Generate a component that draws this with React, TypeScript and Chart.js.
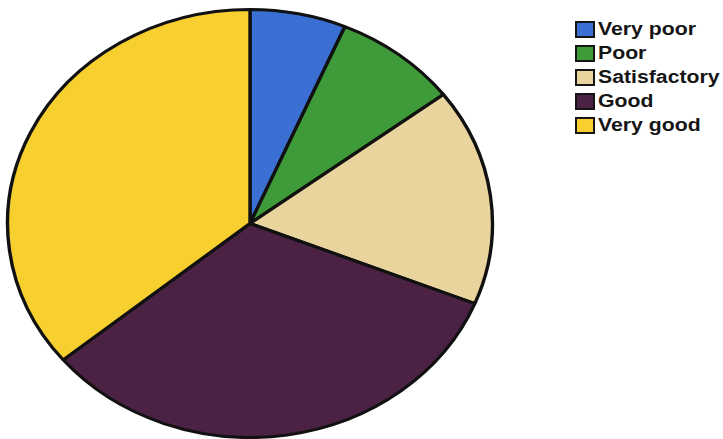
import React, { useEffect, useRef } from "react";
import { Chart, registerables } from "chart.js";

Chart.register(...registerables);

const categories = ["Very poor", "Poor", "Satisfactory", "Good", "Very good"];
const shares = [6.4, 8.3, 16.4, 32.9, 36.0];
const sliceColors = ["#3b6fd3", "#3f9a3a", "#e8d49c", "#4b2243", "#f7d030"];

const STRETCH_X = 1.133;

const stretchPlugin = {
  id: "stretchPie",
  beforeDatasetsDraw(chart: any) {
    const { ctx, chartArea } = chart;
    const cx = (chartArea.left + chartArea.right) / 2;
    ctx.save();
    ctx.translate(cx, 0);
    ctx.scale(STRETCH_X, 1);
    ctx.translate(-cx, 0);
  },
  afterDatasetsDraw(chart: any) {
    chart.ctx.restore();
  },
};

export default function App() {
  const ref = useRef<HTMLCanvasElement | null>(null);

  useEffect(() => {
    if (!ref.current) return;
    const chart = new Chart(ref.current, {
      type: "pie",
      data: {
        labels: categories,
        datasets: [
          {
            data: shares,
            backgroundColor: sliceColors,
            borderColor: "#111111",
            borderWidth: 3,
            clip: false as any,
          },
        ],
      },
      options: {
        responsive: false,
        animation: false,
        layout: { padding: { top: 8, bottom: 0, left: 0, right: 0 } },
        plugins: {
          legend: { display: false },
          tooltip: { enabled: false },
        },
      },
      plugins: [stretchPlugin],
    });
    return () => chart.destroy();
  }, []);

  return (
    <div
      style={{
        position: "fixed",
        left: 0,
        top: 0,
        width: 723,
        height: 439,
        background: "#ffffff",
        overflow: "hidden",
      }}
    >
      <canvas
        ref={ref}
        width={500}
        height={439}
        style={{ position: "absolute", left: 0, top: 0, width: 500, height: 439 }}
      />
      <div style={{ position: "absolute", left: 575, top: 17 }}>
        {categories.map((c, i) => (
          <div
            key={c}
            style={{ display: "flex", alignItems: "center", height: 24 }}
          >
            <div
              style={{
                width: 16,
                height: 13,
                background: sliceColors[i],
                border: "2px solid #151515",
                flex: "none",
              }}
            />
            <div
              style={{
                marginLeft: 3,
                fontFamily: "'Liberation Sans', Arial, sans-serif",
                fontWeight: "bold",
                fontSize: 18,
                lineHeight: "18px",
                color: "#151515",
                transform: "scaleX(1.18)",
                transformOrigin: "left center",
                whiteSpace: "nowrap",
              }}
            >
              {c}
            </div>
          </div>
        ))}
      </div>
    </div>
  );
}
